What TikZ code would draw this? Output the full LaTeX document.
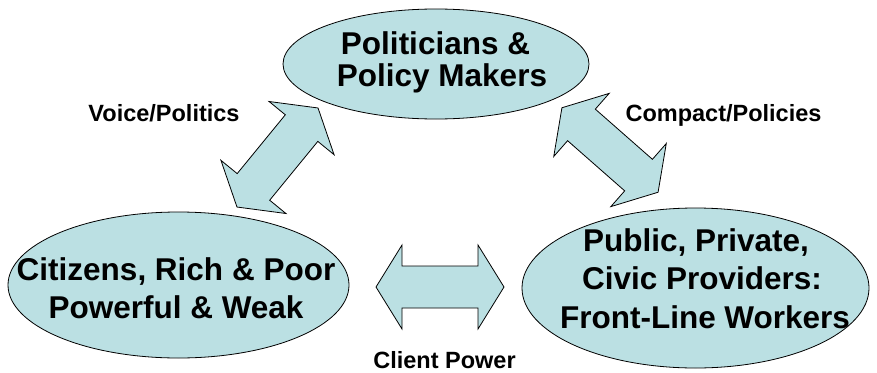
\documentclass[tikz,border=0pt]{standalone}
\usepackage{fontspec}
\setmainfont{Liberation Sans}
\usetikzlibrary{shapes.geometric}
\definecolor{fillblue}{RGB}{187,224,227}
\tikzset{
  bubble/.style={ellipse, draw=black, line width=0.8pt, fill=fillblue, inner sep=0pt},
  bigtxt/.style={font=\fontsize{31.5}{38}\selectfont\bfseries, inner sep=0pt, anchor=base},
  smalltxt/.style={font=\fontsize{23.5}{28}\selectfont\bfseries, inner sep=0pt, anchor=base},
  dblarrow/.pic={
    \draw[line width=0.8pt, fill=fillblue, line join=miter]
      (-64,0) -- (-38,42) -- (-38,21) -- (38,21) -- (38,42) -- (64,0)
      -- (38,-42) -- (38,-21) -- (-38,-21) -- (-38,-42) -- cycle;
  }
}
\begin{document}
\begin{tikzpicture}[x=1pt,y=-1pt]
\useasboundingbox (0,0) rectangle (877,372);

% ellipses
\node[bubble, minimum width=306pt, minimum height=110pt] (pol) at (436,64) {};
\node[bubble, minimum width=341pt, minimum height=146pt] (cit) at (178.5,285) {};
\node[bubble, minimum width=347pt, minimum height=160pt] (prov) at (695.5,288) {};

% ellipse texts
\node[bigtxt] (pol1) at (435.5,54) {Politicians \&};
\node[bigtxt] (pol2) at (442,86) {Policy Makers};
\node[bigtxt] (cit1) at (176,280) {Citizens, Rich \& Poor};
\node[bigtxt] (cit2) at (176,318) {Powerful \& Weak};
\node[bigtxt] (prov1) at (696,251) {Public, Private,};
\node[bigtxt] (prov2) at (702,289) {Civic Providers:};
\node[bigtxt] (prov3) at (705,328) {Front-Line Workers};

% block arrows
\pic[rotate=50.7] (voicearrow) at (277.5,157.5) {dblarrow};
\pic[rotate=-41.3] (compactarrow) at (610,150) {dblarrow};
\pic (clientarrow) at (440,287) {dblarrow};

% labels
\node[smalltxt] (voice) at (164,121) {Voice/Politics};
\node[smalltxt] (compact) at (723.5,121) {Compact/Policies};
\node[smalltxt] (client) at (444.5,368) {Client Power};
\end{tikzpicture}
\end{document}
